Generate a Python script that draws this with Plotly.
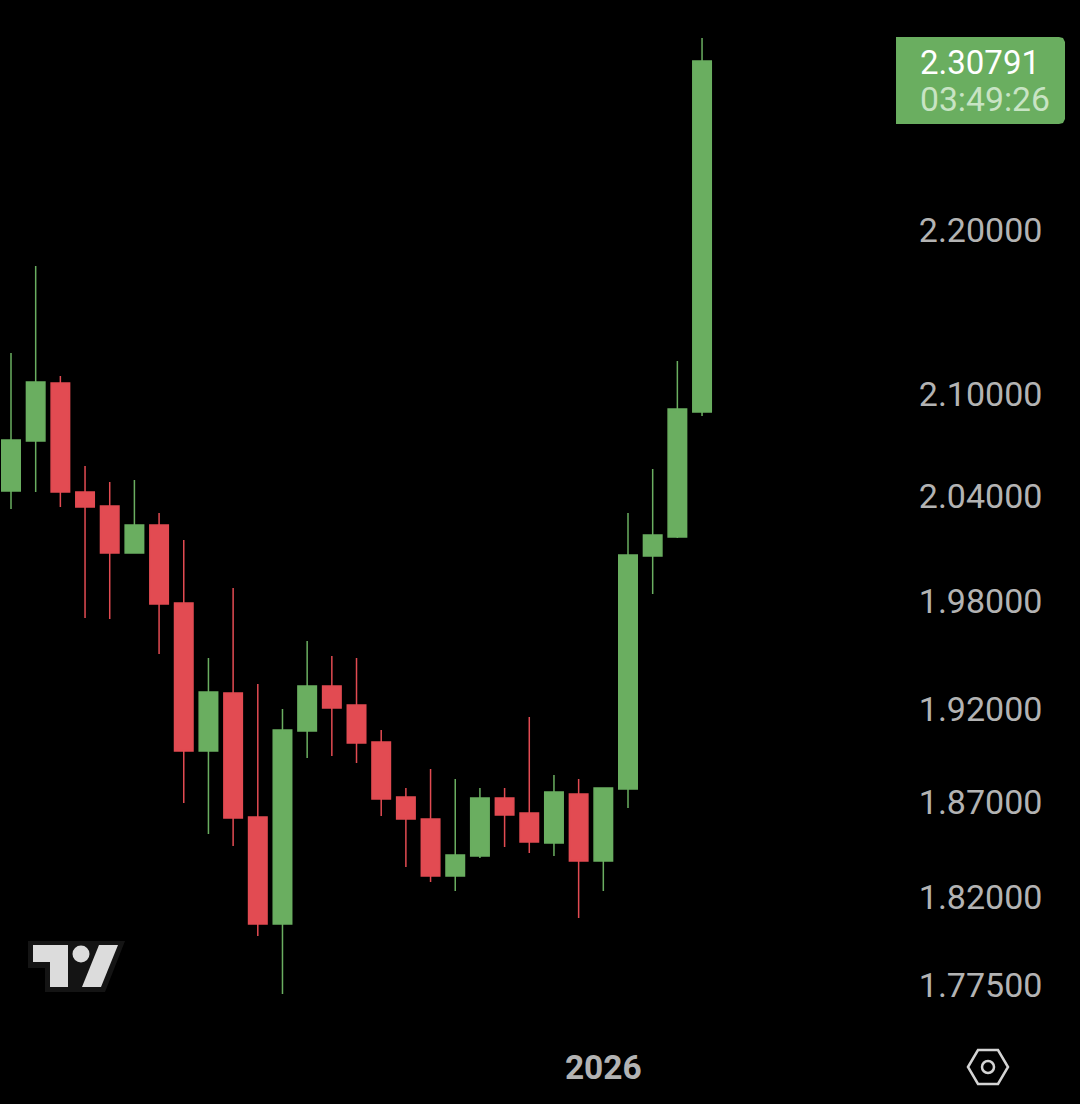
import math
import plotly.graph_objects as go

W, H = 1080, 1104
GREEN = "#6aae60"
RED = "#e24b52"
TICK = "#b3b3b3"

top_body = [2.0726,2.107,2.1064,2.0422,2.0341,2.0231,2.0231,1.9788,1.9294,1.9288,1.8621,1.9087,1.9327,1.9327,1.9223,1.9022,1.8727,1.861,1.8421,1.8722,1.8722,1.8642,1.8754,1.8743,1.8775,2.006,2.0174,2.0909,2.3082]
bottom_body = [2.0428,2.072,2.0422,2.0335,2.0071,2.0071,1.9782,1.8973,1.8973,1.8616,1.8063,1.8063,1.9081,1.9206,1.9016,1.8716,1.861,1.8311,1.8311,1.8416,1.8631,1.8489,1.8484,1.839,1.839,1.877,2.0054,2.0163,2.0891]
highs = [2.1245,2.1776,2.1106,2.0573,2.048,2.0492,2.03,2.0145,1.9481,1.9873,1.9338,1.9201,1.9576,1.9492,1.9481,1.9087,1.8775,1.8876,1.8823,1.8775,1.8775,1.9157,1.8844,1.8823,1.8775,2.03,2.0556,2.1196,2.3233]
lows = [2.0324,2.0422,2.0335,1.9704,1.9698,2.0071,1.9503,1.8695,1.8531,1.8468,1.8002,1.7708,1.8936,1.8946,1.8909,1.8626,1.8358,1.828,1.8233,1.8405,1.8463,1.8431,1.8416,1.8094,1.8233,1.8669,1.9839,2.0157,2.0868]
rising = [1,1,0,0,0,1,0,0,1,0,0,1,1,0,0,0,0,0,1,1,0,0,1,0,1,1,1,1,1]

price_ticks = [2.2, 2.1, 2.04, 1.98, 1.92, 1.87, 1.82, 1.775]
price_labels = ["2.20000", "2.10000", "2.04000", "1.98000", "1.92000", "1.87000", "1.82000", "1.77500"]
time_ticks = [24]
time_labels = ["2026"]

opens = [b if r else t for t, b, r in zip(top_body, bottom_body, rising)]
closes = [t if r else b for t, b, r in zip(top_body, bottom_body, rising)]

# layout in pixels
PL, PR, PT, PB = 0, 905, 0, 1035


def px(x):
    return (x - PL) / (PR - PL)


def py(y):
    return (PB - y) / (PB - PT)


def path(points):
    return "M" + " L".join(f"{px(x):.5f},{py(y):.5f}" for x, y in points) + " Z"


def deco_path(points, fill, line=None, width=0):
    return dict(type="path", xref="paper", yref="paper", path=path(points), fillcolor=fill,
                line=dict(color=line or fill, width=width), layer="above")


def circle(cx, cy, r, fill, line=None, width=0):
    return dict(type="circle", xref="paper", yref="paper", x0=px(cx - r), x1=px(cx + r), y0=py(cy + r), y1=py(cy - r),
                fillcolor=fill, line=dict(color=line or fill, width=width), layer="above")


shapes = [
    # last price tag
    deco_path([(896, 37), (1059, 37), (1063, 38), (1065, 42), (1065, 119), (1063, 123), (1059, 124), (896, 124)], GREEN),
    # logo
    deco_path([(28, 941), (125, 941), (105, 992), (45, 992), (45, 968), (28, 968)], "#141414"),
    deco_path([(33, 945), (68, 945), (68, 987), (50, 987), (50, 962), (33, 962)], "#dcdcdc"),
    deco_path([(99, 945), (118, 945), (101, 987), (82, 987)], "#dcdcdc"),
    circle(81, 954, 8.5, "#dcdcdc"),
    # settings icon
    deco_path([(968, 1067), (978, 1050), (998, 1050), (1008, 1067), (998, 1084), (978, 1084)], "rgba(0,0,0,0)", "#d4d4d4", 2.5),
    circle(988, 1067, 6, "rgba(0,0,0,0)", "#d4d4d4", 2.5),
]

annotations = [
    dict(xref="paper", yref="paper", x=px(918), y=py(63), text="2.30791", showarrow=False, xanchor="left", yanchor="middle",
         font=dict(family="Roboto", size=33, color="#ffffff")),
    dict(xref="paper", yref="paper", x=px(918), y=py(100), text="03:49:26", showarrow=False, xanchor="left", yanchor="middle",
         font=dict(family="Roboto", size=33.7, color="#c8e4c4")),
]

STEP = 24.68
X0 = 11
fig = go.Figure(go.Candlestick(
    x=list(range(len(opens))), open=opens, high=highs, low=lows, close=closes,
    increasing=dict(line=dict(color=GREEN, width=1.5), fillcolor=GREEN),
    decreasing=dict(line=dict(color=RED, width=1.5), fillcolor=RED),
    whiskerwidth=0, hoverinfo="skip", showlegend=False,
))

fig.update_layout(
    width=W, height=H, autosize=False,
    margin=dict(l=PL, r=W - PR, t=PT, b=H - PB, pad=0),
    paper_bgcolor="#000000", plot_bgcolor="#000000",
    boxgap=0.134, boxgroupgap=0.134,
    shapes=shapes, annotations=annotations, showlegend=False,
    xaxis=dict(
        range=[(PL - X0) / STEP, (PR - X0) / STEP], rangeslider=dict(visible=False),
        tickmode="array", tickvals=time_ticks, ticktext=time_labels, showgrid=False, zeroline=False, showline=False,
        ticks="outside", ticklen=3, tickcolor="#000000",
        tickfont=dict(family="Roboto", size=33.5, color=TICK, weight="bold"),
    ),
    yaxis=dict(
        type="log", side="right", showgrid=False, zeroline=False, showline=False,
        range=[math.log10(2.2 * math.exp((230 - PB) / 3520)), math.log10(2.2 * math.exp((230 - PT) / 3520))],
        tickmode="array", tickvals=price_ticks, ticktext=price_labels,
        ticks="outside", ticklen=6, tickcolor="#000000",
        tickfont=dict(family="Roboto", size=34, color=TICK),
    ),
)

fig.write_html("out.html", config=dict(displayModeBar=False),
               post_script="document.body.style.margin='0';document.documentElement.style.background='#000';")
